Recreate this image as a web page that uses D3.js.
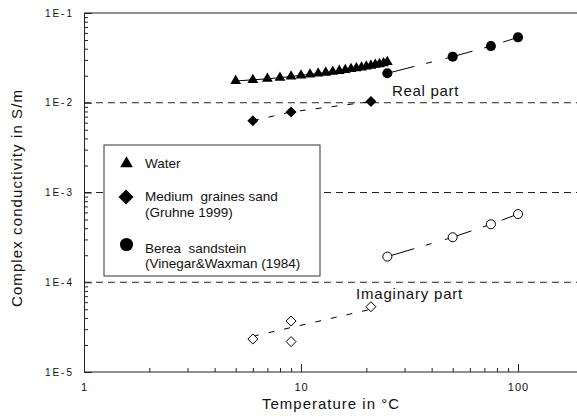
<!DOCTYPE html>
<html><head><meta charset="utf-8">
<script src="https://cdn.jsdelivr.net/npm/d3@7"></script>
<style>
html,body{margin:0;padding:0;background:#fff;}
svg text{font-family:"Liberation Sans",Arial,sans-serif;fill:#111;}
</style></head>
<body><svg id="c" width="577" height="417"></svg>
<script>
// ---- data ----
const waterT = [5,6,7,8,9,10,11,12,13,14,15,16,17,18,19,20,21,22,23,24,25];
const waterReal = [0.0175,0.018,0.0185,0.019,0.0196,0.0202,0.0207,0.0212,0.0217,0.0222,0.0227,0.0232,0.0238,0.0243,0.0248,0.0254,0.0259,0.0265,0.027,0.0276,0.0285];
const sandT = [6,9,21];
const sandReal = [0.0063,0.0079,0.0103];
const sandImagT = [6,9,9,21];
const sandImag = [2.33e-5,3.7e-5,2.18e-5,5.34e-5];
const sandImagFitT = [6,21];
const sandImagFit = [2.5e-5,5.0e-5];
const bereaT = [25,50,75,100];
const bereaReal = [0.0213,0.0326,0.0428,0.0536];
const bereaImag = [1.93e-4,3.17e-4,4.43e-4,5.75e-4];
const xMajor = [1,10,100];
const xMinor = [2,3,4,5,6,7,8,9,20,30,40,50,60,70,80,90,200];
const yMajor = [1e-5,1e-4,1e-3,1e-2,1e-1];
const yMajorLabels = ["1E-5","1E-4","1E-3","1E-2","1E-1"];
const gridVals = [1e-4,1e-3,1e-2];
const legendLabels = ["Water","Medium  graines sand","(Gruhne 1999)","Berea  sandstein","(Vinegar&Waxman (1984)"];

const svg = d3.select("#c");
const x = d3.scaleLog().domain([1,200]).range([84, 84+217*Math.log10(200)]);
const y = d3.scaleLog().domain([1e-5,1e-1]).range([372,13]);
const W = 577;
const FONT = "Liberation Sans, Arial, sans-serif";

// grid dashed lines
svg.selectAll(".grid").data(gridVals).enter().append("line")
  .attr("x1",84).attr("x2",W).attr("y1",d=>y(d)).attr("y2",d=>y(d))
  .attr("stroke","#222").attr("stroke-width",1).attr("stroke-dasharray","7,5");

// top border
svg.append("line").attr("x1",84).attr("x2",W).attr("y1",13).attr("y2",13).attr("stroke","#222").attr("stroke-width",1.2);

// x axis
const gx = svg.append("g").attr("transform","translate(0,372)");
gx.call(d3.axisBottom(x).tickValues(xMajor).tickSize(-8).tickFormat(d3.format("d")).tickPadding(11));
gx.append("g").call(d3.axisBottom(x).tickValues(xMinor).tickSize(-4).tickFormat(""));
gx.selectAll("g > g > path.domain").remove();
gx.select("path.domain").attr("d","M84,0H"+W).attr("stroke","#222");
gx.selectAll("line").attr("stroke","#222");
gx.selectAll("text").attr("font-size",11).attr("fill","#111").attr("font-family",FONT).attr("letter-spacing",1);

// y axis
const yMinor = [];
[1e-5,1e-4,1e-3,1e-2].forEach(b=>{for(let k=2;k<=9;k++) yMinor.push(b*k);});
const gy = svg.append("g").attr("transform","translate(84,0)");
gy.call(d3.axisLeft(y).tickValues(yMajor).tickSize(-8).tickPadding(10).tickFormat((d,i)=>yMajorLabels[i]));
gy.append("g").call(d3.axisLeft(y).tickValues(yMinor).tickSize(-4).tickFormat(""));
gy.selectAll("g > g > path.domain").remove();
gy.selectAll("path,line").attr("stroke","#222");
gy.selectAll("text").attr("font-size",10).attr("fill","#111").attr("font-family",FONT).attr("letter-spacing",2);

// lines
const line = d3.line().x(d=>x(d[0])).y(d=>y(d[1]));
svg.append("path").datum(waterT.map((t,i)=>[t,waterReal[i]])).attr("d",line)
  .attr("fill","none").attr("stroke","#000").attr("stroke-width",1);
svg.append("path").datum(sandT.map((t,i)=>[t,sandReal[i]])).attr("d",line)
  .attr("fill","none").attr("stroke","#000").attr("stroke-width",1).attr("stroke-dasharray","6,10");
svg.append("path").datum(bereaT.map((t,i)=>[t,bereaReal[i]])).attr("d",line)
  .attr("fill","none").attr("stroke","#000").attr("stroke-width",1).attr("stroke-dasharray","28,12,6,14");
svg.append("path").datum(bereaT.map((t,i)=>[t,bereaImag[i]])).attr("d",line)
  .attr("fill","none").attr("stroke","#000").attr("stroke-width",1).attr("stroke-dasharray","28,12,6,14");
svg.append("path").datum(sandImagFitT.map((t,i)=>[t,sandImagFit[i]])).attr("d",line)
  .attr("fill","none").attr("stroke","#000").attr("stroke-width",1).attr("stroke-dasharray","6,10");

// markers
const diamond = r => `M0,${-r}L${r},0L0,${r}L${-r},0Z`;
const tri = d3.symbol().type(d3.symbolTriangle).size(50);
const cir = d3.symbol().type(d3.symbolCircle).size(80);
const cirOpen = d3.symbol().type(d3.symbolCircle).size(64);
svg.selectAll(".wt").data(waterT).enter().append("path")
  .attr("d",tri).attr("transform",(d,i)=>`translate(${x(d)},${y(waterReal[i])})`).attr("fill","#000");
svg.selectAll(".sr").data(sandT).enter().append("path")
  .attr("d",diamond(5.5)).attr("transform",(d,i)=>`translate(${x(d)},${y(sandReal[i])})`).attr("fill","#000");
svg.selectAll(".br").data(bereaT).enter().append("path")
  .attr("d",cir).attr("transform",(d,i)=>`translate(${x(d)},${y(bereaReal[i])})`).attr("fill","#000");
svg.selectAll(".si").data(sandImagT).enter().append("path")
  .attr("d",diamond(5)).attr("transform",(d,i)=>`translate(${x(d)},${y(sandImag[i])})`).attr("fill","#fff").attr("stroke","#000").attr("stroke-width",1);
svg.selectAll(".bi").data(bereaT).enter().append("path")
  .attr("d",cirOpen).attr("transform",(d,i)=>`translate(${x(d)},${y(bereaImag[i])})`).attr("fill","#fff").attr("stroke","#000").attr("stroke-width",1);

// legend
svg.append("rect").attr("x",104).attr("y",145).attr("width",216).attr("height",131)
  .attr("fill","#fff").attr("stroke","#333").attr("stroke-width",1);
svg.append("path").attr("d",d3.symbol().type(d3.symbolTriangle).size(70)).attr("transform","translate(126.5,163.5)").attr("fill","#000");
svg.append("path").attr("d",diamond(7.5)).attr("transform","translate(126,197)").attr("fill","#000");
svg.append("path").attr("d",d3.symbol().type(d3.symbolCircle).size(135)).attr("transform","translate(126.5,244.5)").attr("fill","#000");
const legY = [168,200.5,216.5,252.5,268];
svg.selectAll(".lt").data(legendLabels).enter().append("text")
  .attr("x",145).attr("y",(d,i)=>legY[i]).text(d=>d).attr("font-size",13.5).style("white-space","pre");

// annotations
svg.append("text").attr("x",392).attr("y",96).text("Real part").attr("font-size",15).attr("letter-spacing",0.7);
svg.append("text").attr("x",356).attr("y",299).text("Imaginary part").attr("font-size",15).attr("letter-spacing",0.8);

// axis titles
svg.append("text").attr("x",331).attr("y",409).attr("text-anchor","middle").text("Temperature in °C").attr("font-size",15).attr("letter-spacing",1);
svg.append("text").attr("transform","translate(22,198) rotate(-90)").attr("text-anchor","middle").text("Complex conductivity in S/m").attr("font-size",15).attr("letter-spacing",1.1);
</script></body></html>
